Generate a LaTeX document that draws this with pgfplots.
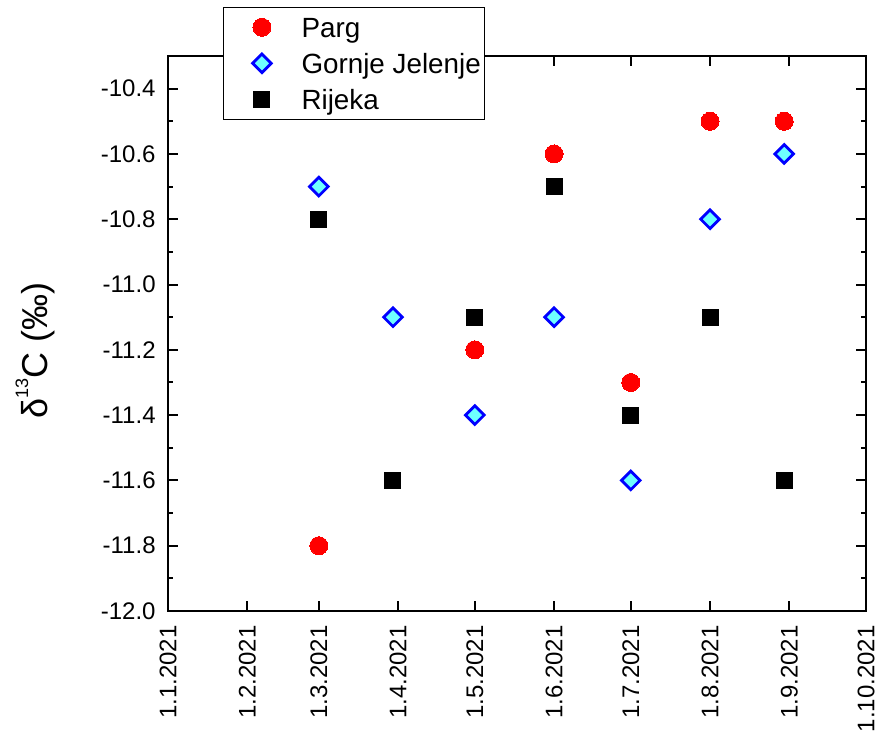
\documentclass[border=0pt]{standalone}
\usepackage{pgfplots}
\pgfplotsset{compat=1.18}
\usepackage{fontspec}
\setmainfont{Liberation Sans}
\definecolor{dcyan}{RGB}{110,255,255}
\begin{document}
\begin{tikzpicture}
\begin{axis}[
  scale only axis, width=349pt, height=277.5pt,
  xmin=0, xmax=273, ymin=-12.0, ymax=-10.3,
  xtick={0,31,59,90,120,151,181,212,243,273},
  xticklabels={1.1.2021,1.2.2021,1.3.2021,1.4.2021,1.5.2021,1.6.2021,1.7.2021,1.8.2021,1.9.2021,1.10.2021},
  ytick={-12.0,-11.8,-11.6,-11.4,-11.2,-11.0,-10.8,-10.6,-10.4},
  minor y tick num=1,
  tick align=inside, tick pos=both,
  major tick length=5pt, minor tick length=2.5pt,
  axis line style={line width=1pt},
  every tick/.style={line width=1pt, black},
  yticklabel style={font=\fontsize{12}{14}\selectfont, /pgf/number format/.cd, fixed, fixed zerofill, precision=1, /tikz/.cd, inner sep=0pt},
  /pgf/number format/assume math mode=true,
  yticklabel shift=6pt,
  xticklabel style={font=\fontsize{12}{14}\selectfont, rotate=90, anchor=east, inner sep=0pt},
  xticklabel shift=7pt,
  ylabel={δ\raisebox{0.55em}{\fontsize{9}{9}\selectfont 13}C (‰)},
  ylabel style={font=\fontsize{18}{20}\selectfont, at={(axis description cs:-0.19,0.47)}, anchor=center},
  clip=false,
  legend cell align=left,
  legend style={at={(axis description cs:0.0784,1.0888)}, anchor=north west, draw=black, line width=0.6pt, fill=white,
    font=\fontsize{13.9}{16}\selectfont, inner xsep=0pt, inner ysep=5pt, row sep=8pt,
    nodes={inner ysep=0pt, text height=10pt, text depth=0pt},
    /tikz/every odd column/.append style={column sep=7.5pt}},
  legend image code/.code={\path (0pt,0pt) (29pt,0pt); \draw[mark repeat=2,mark phase=2,#1] plot coordinates {(9pt,0pt)(19pt,0pt)(29pt,0pt)};},
]
\addplot[only marks, mark=*, mark size=4.5pt, color=red, mark options={draw=red, fill=red, line width=0pt}]
  coordinates {(59,-11.8)(120,-11.2)(151,-10.6)(181,-11.3)(212,-10.5)(241,-10.5)};
\addlegendentry{Parg}
\addplot[only marks, mark=square*, mark size=3.3pt, color=blue, mark options={rotate=45, draw=blue, fill=dcyan, line width=1.4pt}]
  coordinates {(59,-10.7)(88,-11.1)(120,-11.4)(151,-11.1)(181,-11.6)(212,-10.8)(241,-10.6)};
\addlegendentry{Gornje Jelenje}
\addplot[only marks, mark=square*, mark size=4pt, color=black, mark options={draw=black, fill=black, line width=0pt}]
  coordinates {(59,-10.8)(88,-11.6)(120,-11.1)(151,-10.7)(181,-11.4)(212,-11.1)(241,-11.6)};
\addlegendentry{Rijeka}
\coordinate (bl) at ([shift={(-84pt,-54pt)}]rel axis cs:0,0);
\coordinate (tr) at ([shift={(9pt,28pt)}]rel axis cs:1,1);
\end{axis}
\useasboundingbox (bl) rectangle (tr);
\end{tikzpicture}
\end{document}
